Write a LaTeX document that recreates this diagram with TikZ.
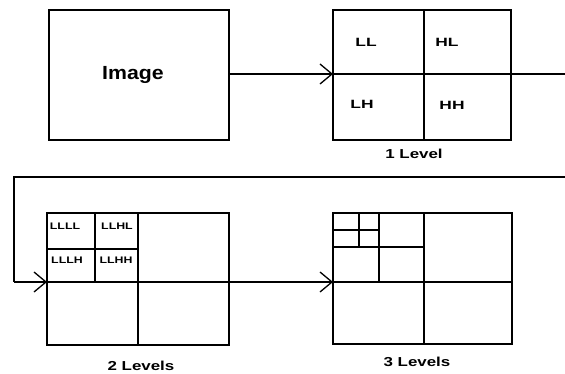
\documentclass[tikz,border=0pt]{standalone}
\usepackage{fontspec}
\setmainfont{Liberation Sans}
\newfontfamily\wideA{Liberation Sans}[FakeStretch=1.45]
\newfontfamily\wideB{Liberation Sans}[FakeStretch=1.3]
\newfontfamily\wideC{Liberation Sans}[FakeStretch=1.12]
\usetikzlibrary{arrows.meta}
\begin{document}
\begin{tikzpicture}[x=1pt,y=-1pt,
  box/.style={draw,line width=1.7pt,inner sep=0pt,outer sep=0pt},
  grid/.style={line width=1.7pt},
  conn/.style={line width=1.4pt},
  tip/.style={-{Straight Barb[length=12pt,width=20pt,line width=1.3pt]}},
  big/.style={font=\wideC\bfseries\fontsize{19}{19}\selectfont},
  lab/.style={font=\wideA\bfseries\fontsize{12}{12}\selectfont},
  tiny/.style={font=\wideB\bfseries\fontsize{9.5}{9.5}\selectfont},
  captxt/.style={font=\wideB\bfseries\fontsize{13}{13}\selectfont}]
\useasboundingbox (0,0) rectangle (565,374);
% boxes
\node[box,minimum width=180pt,minimum height=130pt] (img) at (139,75) {};
\node[big] (imgtxt) at (133,75) {Image};
\node[box,minimum width=178pt,minimum height=130pt] (l1) at (422,75) {};
\node[box,minimum width=182pt,minimum height=132pt] (l2) at (138,279) {};
\node[box,minimum width=179pt,minimum height=131pt] (l3) at (422.5,278.5) {};
% level 1 grid
\draw[grid] (424,10) -- (424,140);
\draw[grid] (333,74) -- (511,74);
\node[lab] (ll) at (366,42) {LL};
\node[lab] (hl) at (447,42) {HL};
\node[lab] (lh) at (362,104) {LH};
\node[lab] (hh) at (452,105) {HH};
\node[captxt] (c1) at (414,154) {1 Level};
% level 2 grid
\draw[grid] (47,282) -- (229,282);
\draw[grid] (138,213) -- (138,345);
\draw[grid] (47,249) -- (138,249);
\draw[grid] (95,213) -- (95,282);
\node[tiny] (llll) at (65,226) {LLLL};
\node[tiny] (llhl) at (117,226) {LLHL};
\node[tiny] (lllh) at (67,260) {LLLH};
\node[tiny] (llhh) at (116,260) {LLHH};
\node[captxt] (c2) at (141,366) {2 Levels};
% level 3 grid
\draw[grid] (333,282) -- (512,282);
\draw[grid] (424,213) -- (424,344);
\draw[grid] (333,247) -- (424,247);
\draw[grid] (379,213) -- (379,282);
\draw[grid] (333,230) -- (379,230);
\draw[grid] (359,213) -- (359,247);
\node[captxt] (c3) at (417,362) {3 Levels};
% connectors
\coordinate (e1) at (565,74);
\coordinate (e2) at (565,177);
\coordinate (k1) at (14,177);
\coordinate (k2) at (14,282);
\draw[conn,tip] (img.east |- 0,74) -- (l1.west |- 0,74);
\draw[conn] (l1.east |- 0,74) -- (e1);
\draw[conn] (e2) -- (k1) -- (k2);
\draw[line width=2.4pt] (k2) -- (34,282);
\draw[conn,tip] (k2) -- (l2.west |- 0,282);
\draw[conn,tip] (l2.east |- 0,282) -- (l3.west |- 0,282);
\end{tikzpicture}
\end{document}
